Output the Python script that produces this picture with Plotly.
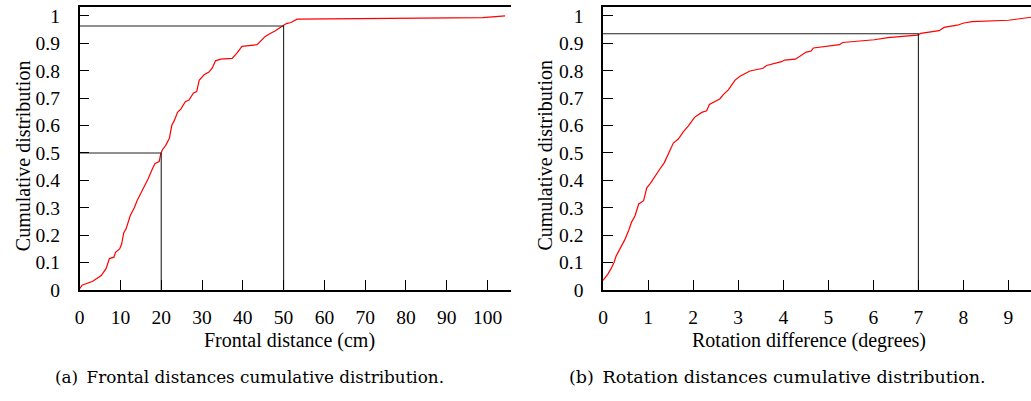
import plotly.graph_objects as go

# ---- Data: (a) frontal distance CDF ----
frontal_x = [0, 0.6, 3.2, 4.5, 5.3, 6.5, 7.3, 8.4, 8.8, 9.8, 10.3, 10.8, 11.4, 12.4, 13.4, 14.1,
             15.0, 15.9, 16.8, 17.9, 18.5, 19.5, 19.9, 20.3, 21.1, 22.0, 22.6, 23.2, 24.0, 24.8,
             25.9, 26.8, 27.9, 28.7, 29.3, 30.5, 31.7, 32.5, 33.3, 34.6, 37.4, 38.6, 39.8, 43.5,
             44.3, 45.5, 46.7, 48.0, 50.0, 50.7, 51.8, 53.3, 98.8, 104.3]
frontal_y = [0.005, 0.018, 0.032, 0.044, 0.053, 0.079, 0.115, 0.12, 0.138, 0.15, 0.168, 0.208,
             0.224, 0.271, 0.300, 0.327, 0.353, 0.383, 0.406, 0.444, 0.462, 0.469, 0.498, 0.512,
             0.528, 0.554, 0.601, 0.618, 0.648, 0.660, 0.687, 0.693, 0.719, 0.724, 0.765, 0.785,
             0.795, 0.809, 0.836, 0.842, 0.845, 0.865, 0.889, 0.895, 0.907, 0.925, 0.936, 0.946,
             0.966, 0.972, 0.976, 0.988, 0.994, 1.0]

# ---- Data: (b) rotation difference CDF ----
rot_x = [0, 0.11, 0.18, 0.24, 0.29, 0.38, 0.48, 0.57, 0.63, 0.71, 0.79, 0.90, 0.97, 1.05, 1.16,
         1.25, 1.36, 1.45, 1.56, 1.67, 1.78, 1.89, 2.03, 2.19, 2.30, 2.36, 2.48, 2.59, 2.67, 2.78,
         2.93, 3.04, 3.26, 3.55, 3.63, 3.96, 4.03, 4.27, 4.51, 4.62, 4.67, 5.25, 5.32, 6.02, 6.32,
         6.98, 7.05, 7.46, 7.57, 7.86, 8.01, 8.19, 9.0, 9.5]
rot_y = [0.035, 0.059, 0.079, 0.1, 0.124, 0.153, 0.183, 0.218, 0.247, 0.271, 0.314, 0.326, 0.373,
         0.389, 0.418, 0.439, 0.465, 0.498, 0.536, 0.551, 0.577, 0.598, 0.63, 0.648, 0.654, 0.677,
         0.689, 0.697, 0.713, 0.73, 0.766, 0.78, 0.799, 0.809, 0.819, 0.833, 0.839, 0.842, 0.868,
         0.872, 0.883, 0.895, 0.903, 0.913, 0.921, 0.93, 0.936, 0.946, 0.958, 0.966, 0.974, 0.979,
         0.984, 0.995]

# ---- Reference (percentile) guide lines ----
frontal_marks_x = [20, 50]
frontal_marks_y = [0.5, 0.963]
rot_marks_x = [7]
rot_marks_y = [0.935]

# ---- Tick labels / texts ----
frontal_ticks = [0, 10, 20, 30, 40, 50, 60, 70, 80, 90, 100]
rot_ticks = [0, 1, 2, 3, 4, 5, 6, 7, 8, 9]
y_ticks = [0, 0.1, 0.2, 0.3, 0.4, 0.5, 0.6, 0.7, 0.8, 0.9, 1]
y_tick_text = ["0", "0.1", "0.2", "0.3", "0.4", "0.5", "0.6", "0.7", "0.8", "0.9", "1"]
y_title = "Cumulative distribution"
x_titles = ["Frontal distance (cm)", "Rotation difference (degrees)"]
captions = ["(a)\u2002Frontal distances cumulative distribution.",
            "(b)\u2002Rotation distances cumulative distribution."]

W, H = 1031, 401
SERIF = "Liberation Serif"
CAP = "DejaVu Serif"

fig = go.Figure()

RED = "#ff0000"
GUIDE = "#222222"

fig.add_trace(go.Scatter(x=frontal_x, y=frontal_y, mode="lines",
                         line=dict(color=RED, width=1.2), xaxis="x", yaxis="y",
                         showlegend=False, hoverinfo="skip"))
for mx, my in zip(frontal_marks_x, frontal_marks_y):
    fig.add_trace(go.Scatter(x=[0, mx, mx], y=[my, my, 0], mode="lines",
                             line=dict(color=GUIDE, width=1.1), xaxis="x", yaxis="y",
                             showlegend=False, hoverinfo="skip"))

fig.add_trace(go.Scatter(x=rot_x, y=rot_y, mode="lines",
                         line=dict(color=RED, width=1.2), xaxis="x2", yaxis="y2",
                         showlegend=False, hoverinfo="skip"))
for mx, my in zip(rot_marks_x, rot_marks_y):
    fig.add_trace(go.Scatter(x=[0, mx, mx], y=[my, my, 0], mode="lines",
                             line=dict(color=GUIDE, width=1.1), xaxis="x2", yaxis="y2",
                             showlegend=False, hoverinfo="skip"))

y_bot = (H - 298) / H
y_top = (H - 6.3) / H

TICK_SIZE = 19.5
TITLE_SIZE = 20

common_x = dict(showline=True, linecolor="black", linewidth=1.6, mirror=True,
                ticks="inside", ticklen=10, tickwidth=1.4, tickcolor="black",
                showgrid=False, zeroline=False,
                tickfont=dict(family=SERIF, size=TICK_SIZE, color="black"),
                ticklabelstandoff=9)
common_y = dict(showline=True, linecolor="black", linewidth=1.6,
                ticks="inside", ticklen=10, tickwidth=1.4, tickcolor="black",
                showgrid=False, zeroline=False, range=[0, 1.032],
                tickvals=y_ticks, ticktext=y_tick_text,
                tickfont=dict(family=SERIF, size=TICK_SIZE, color="black"),
                ticklabelstandoff=14)

fig.update_layout(
    width=W, height=H,
    margin=dict(l=0, r=0, t=0, b=0),
    paper_bgcolor="white", plot_bgcolor="white",
    font=dict(family=SERIF),
    xaxis=dict(domain=[75 / W, 508.7 / W], range=[0, 105.8], tickvals=frontal_ticks,
               anchor="y", **common_x),
    yaxis=dict(domain=[y_bot, y_top], anchor="x", **common_y),
    xaxis2=dict(domain=[601 / W, 1.0], range=[0, 9.5], tickvals=rot_ticks,
                anchor="y2", **common_x),
    yaxis2=dict(domain=[y_bot, y_top], anchor="x2", **common_y),
)

ann = []
ann.append(dict(text=y_title, x=18 / W, y=(H - 159) / H, xref="paper", yref="paper",
                textangle=-90, showarrow=False, xanchor="center", yanchor="middle",
                font=dict(family=SERIF, size=TITLE_SIZE, color="black")))
ann.append(dict(text=y_title, x=543 / W, y=(H - 159) / H, xref="paper", yref="paper",
                textangle=-90, showarrow=False, xanchor="center", yanchor="middle",
                font=dict(family=SERIF, size=TITLE_SIZE, color="black")))
ann.append(dict(text=x_titles[0], x=198 / W, y=(H - 350) / H, xref="paper", yref="paper",
                showarrow=False, xanchor="left", yanchor="middle",
                font=dict(family=SERIF, size=TITLE_SIZE, color="black")))
ann.append(dict(text=x_titles[1], x=688 / W, y=(H - 350) / H, xref="paper", yref="paper",
                showarrow=False, xanchor="left", yanchor="middle",
                font=dict(family=SERIF, size=TITLE_SIZE, color="black")))
ann.append(dict(text=captions[0], x=48 / W, y=(H - 388) / H, xref="paper", yref="paper",
                showarrow=False, xanchor="left", yanchor="middle",
                font=dict(family=CAP, size=16.8, color="black")))
ann.append(dict(text=captions[1], x=565 / W, y=(H - 388) / H, xref="paper", yref="paper",
                showarrow=False, xanchor="left", yanchor="middle",
                font=dict(family=CAP, size=17.5, color="black")))
fig.update_layout(annotations=ann)

fig.write_html("out.html", post_script="document.body.style.margin='0px';",
               config={"displayModeBar": False})
